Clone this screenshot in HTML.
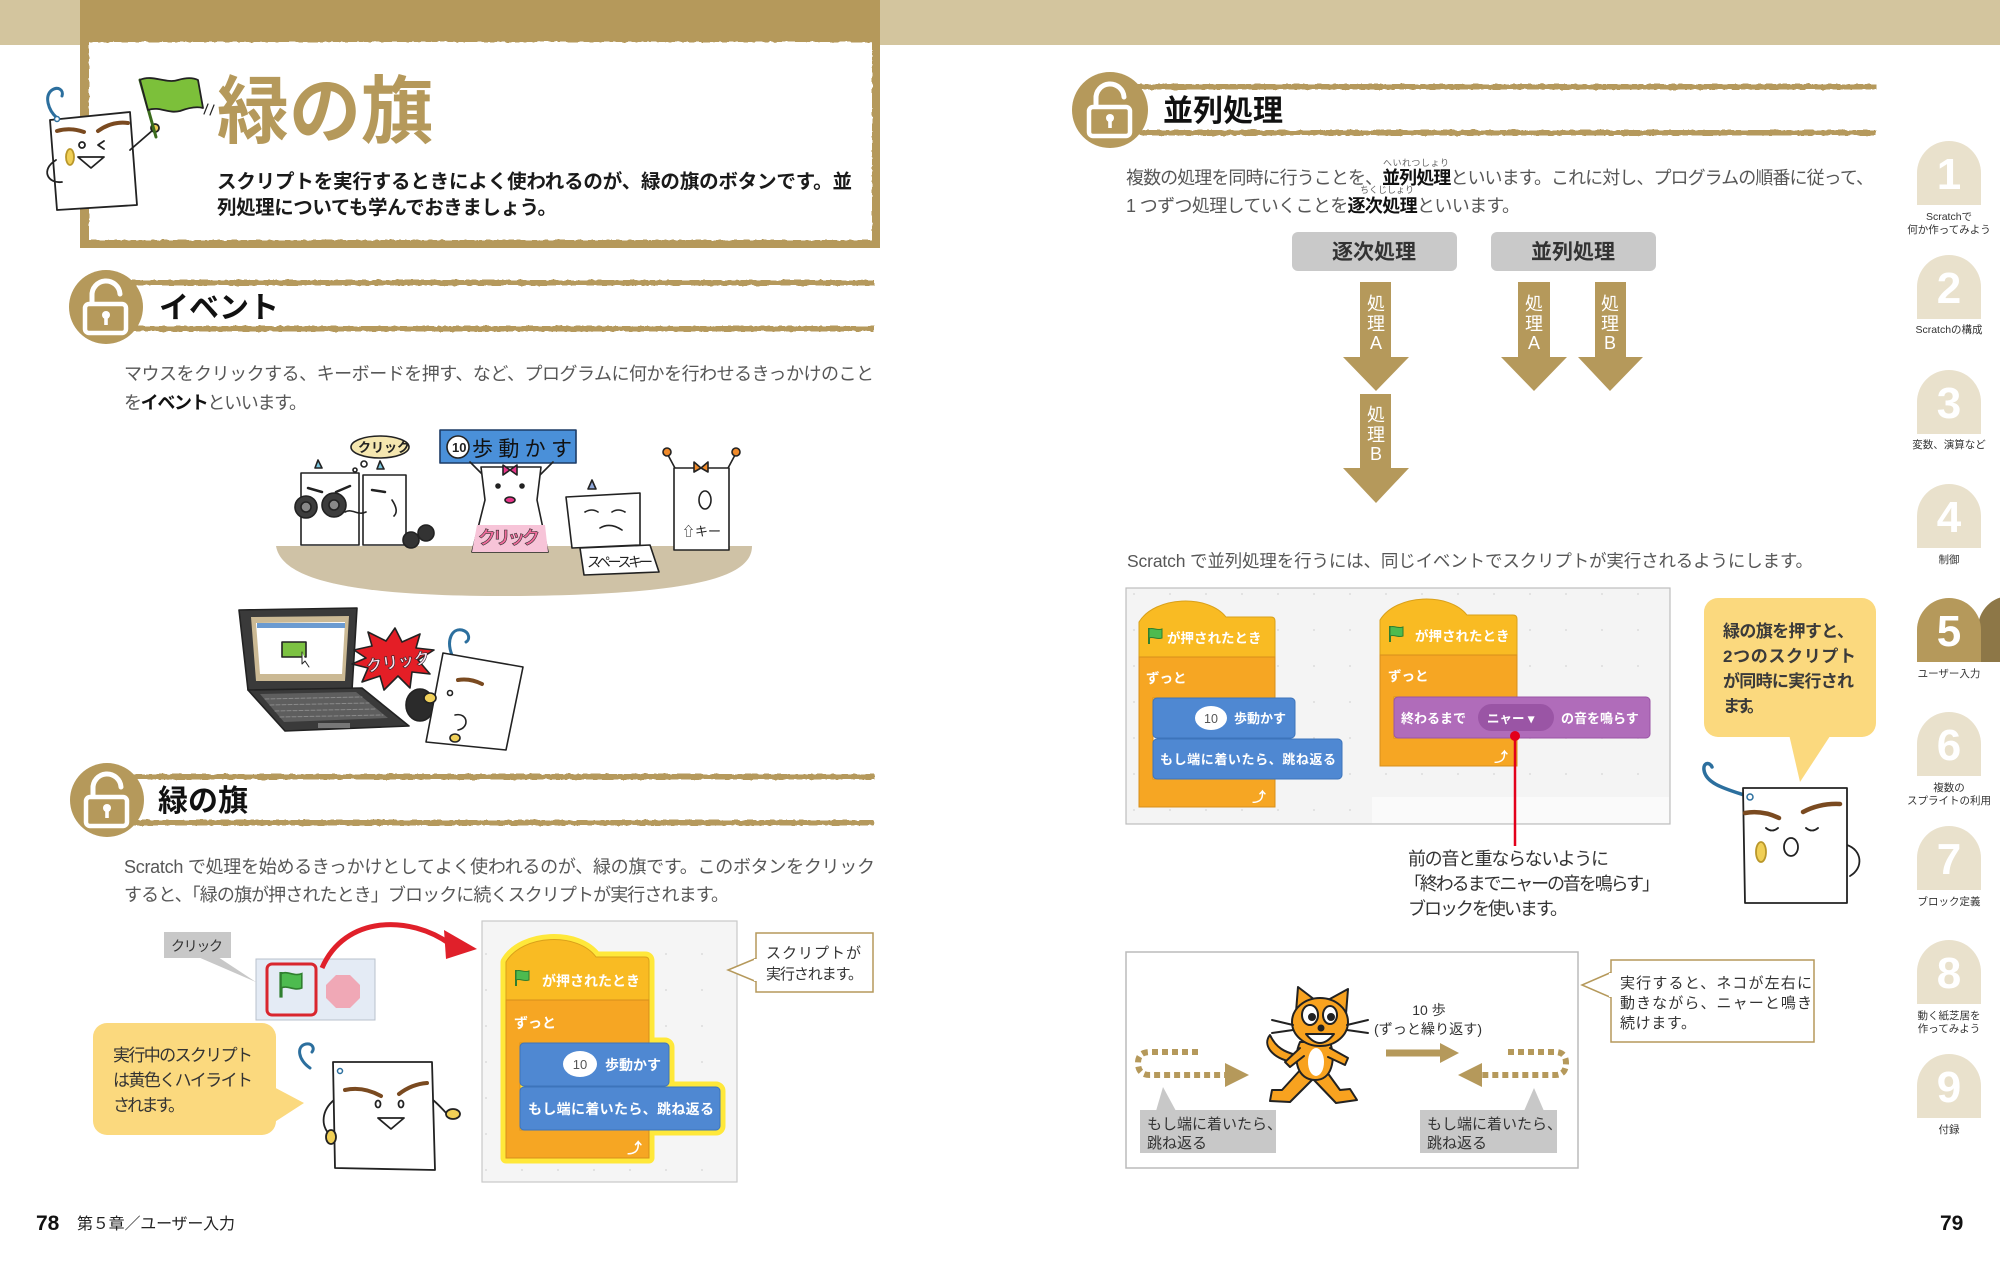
<!DOCTYPE html>
<html lang="ja">
<head>
<meta charset="utf-8">
<style>
  html,body{margin:0;padding:0;background:#fff;}
  body{width:2000px;height:1265px;overflow:hidden;}
  svg{display:block;}
  text{font-family:"Liberation Sans","Noto Sans CJK JP",sans-serif;}
</style>
</head>
<body>
<svg width="2000" height="1265" viewBox="0 0 2000 1265" xmlns="http://www.w3.org/2000/svg">
<defs>
  <filter id="rough" x="-5%" y="-20%" width="110%" height="140%">
    <feTurbulence type="fractalNoise" baseFrequency="0.18" numOctaves="2" seed="4" result="n"/>
    <feDisplacementMap in="SourceGraphic" in2="n" scale="3" xChannelSelector="R" yChannelSelector="G"/>
  </filter>
  <pattern id="dots" width="36" height="36" patternUnits="userSpaceOnUse">
    <circle cx="18" cy="18" r="1" fill="#dcdcdc"/>
  </pattern>
  <g id="flagicon">
    <line x1="0" y1="0" x2="0" y2="16" stroke="#2f7f2f" stroke-width="2"/>
    <path d="M0,1 C4,-1 8,3 13,1 L13,10 C8,12 4,8 0,10 Z" fill="#4dbb4f" stroke="#2f7f2f" stroke-width="1"/>
  </g>
  <path id="hatL" d="M506,1000 L506,962 C522,934 578,932 596,957 L645,957 Q649,957 649,961 L649,1000 Z"/>
  <path id="cL" d="M506,1000 L649,1000 L649,1043 L520,1043 L520,1130 L649,1130 L649,1158 L506,1158 Z"/>
  <rect id="b1L" x="520" y="1043" width="149" height="43" rx="4"/>
  <rect id="b2L" x="520" y="1087" width="200" height="43" rx="4"/>
  <g id="lock">
    <path d="M-14,-4 V-11 A14,14 0 0 1 14,-13" fill="none" stroke="#fff" stroke-width="5" stroke-linecap="round"/>
    <rect x="-21" y="-3" width="41" height="29" rx="4" fill="none" stroke="#fff" stroke-width="4.5"/>
    <circle cx="0" cy="8" r="4" fill="#fff"/>
    <rect x="-1.8" y="8" width="3.6" height="10" fill="#fff"/>
  </g>
</defs>

<rect x="0" y="0" width="2000" height="45" fill="#d3c59e"/>

<rect x="80" y="0" width="800" height="248" fill="#b5995b"/>
<rect x="89" y="42" width="783" height="198" fill="#ffffff" filter="url(#rough)"/>

<g stroke="#222" stroke-width="1.8" stroke-linejoin="round" stroke-linecap="round">
  <path d="M57,118 C48,110 44,96 52,90 C58,86 64,90 62,96" fill="none" stroke="#2c6f9e" stroke-width="3"/>
  <polygon points="50,120 130,112 137,205 57,210" fill="#fff"/>
  <circle cx="57" cy="119" r="2.5" fill="#fff" stroke="#2c6f9e" stroke-width="1.5"/>
  <path d="M57,131 Q70,127 84,132" fill="none" stroke="#7a4a20" stroke-width="4"/>
  <path d="M98,131 Q112,121 128,123" fill="none" stroke="#7a4a20" stroke-width="4"/>
  <circle cx="82" cy="145" r="3" fill="#fff"/>
  <path d="M104,141 L98,145 L104,149" fill="none"/>
  <polygon points="78,157 104,157 91,168" fill="#fff"/>
  <ellipse cx="70" cy="157" rx="4" ry="8" fill="#f0cf56" stroke="#b9972a"/>
  <path d="M56,160 C40,170 48,184 62,182" fill="none"/>
  <path d="M130,150 L153,130" fill="none"/>
  <circle cx="155" cy="128" r="4" fill="#f0cf56"/>
  <line x1="156" y1="137" x2="140" y2="80" stroke="#3b6b1d" stroke-width="3"/>
  <path d="M140,80 C152,74 166,84 178,80 C188,77 194,78 198,80 L203,108 C196,106 188,108 180,111 C168,114 160,106 148,110 Z" fill="#7cc03a"/>
  <path d="M204,114 L208,104 M210,115 L214,105" fill="none" stroke-width="1.2"/>
</g>

<text x="217" y="137" font-size="74" font-weight="bold" fill="#b5995b" textLength="216" lengthAdjust="spacingAndGlyphs">緑の旗</text>
<text x="217" y="188" font-size="19.5" font-weight="bold" fill="#1a1a1a" textLength="635">スクリプトを実行するときによく使われるのが、緑の旗のボタンです。並</text>
<text x="217" y="214" font-size="19.5" font-weight="bold" fill="#1a1a1a" textLength="340">列処理についても学んでおきましょう。</text>

<g filter="url(#rough)">
  <rect x="120" y="280" width="754" height="5.5" fill="#b5995b"/>
  <rect x="120" y="326" width="754" height="5.5" fill="#b5995b"/>
</g>
<circle cx="106" cy="307" r="37" fill="#b5995b"/>
<use href="#lock" x="106" y="307"/>
<text x="159" y="318" font-size="30" font-weight="bold" fill="#111">イベント</text>

<text x="124" y="380" font-size="18" fill="#575757" textLength="750">マウスをクリックする、キーボードを押す、など、プログラムに何かを行わせるきっかけのこと</text>
<text x="124" y="409" font-size="18" fill="#575757" textLength="183">を<tspan font-weight="bold" fill="#111">イベント</tspan>といいます。</text>

<path d="M276,546 L752,546 C752,576 700,594 520,596 C360,597 282,582 276,546 Z" fill="#cfc2a6"/>
<g stroke="#222" stroke-width="1.6" stroke-linejoin="round" stroke-linecap="round">
  <rect x="301" y="473" width="58" height="72" fill="#fff"/>
  <rect x="363" y="475" width="43" height="70" fill="#fff"/>
  <path d="M315,468 L318,460 L322,468 Z M377,469 L380,461 L384,469 Z" fill="#7ac7e0"/>
  <path d="M308,488 L322,492 M336,492 L350,486 M372,490 L385,492" fill="none" stroke-width="2.5"/>
  <circle cx="306" cy="507" r="11" fill="#3c3c3c"/>
  <circle cx="334" cy="505" r="12" fill="#3c3c3c"/>
  <circle cx="306" cy="507" r="5" fill="#888"/>
  <circle cx="334" cy="505" r="5" fill="#888"/>
  <path d="M345,512 C352,508 358,516 366,512 M392,500 C396,506 398,512 394,516" fill="none"/>
  <circle cx="411" cy="540" r="8" fill="#333"/>
  <circle cx="426" cy="533" r="8" fill="#333"/>
  <ellipse cx="380" cy="447" rx="29" ry="11" fill="#f5e7b0"/>
  <circle cx="364" cy="464" r="3" fill="#fff"/>
  <circle cx="355" cy="470" r="2" fill="#fff"/>
  <rect x="440" y="430" width="136" height="33" fill="#4a90d9" stroke="#1d3c66"/>
  <circle cx="458" cy="447" r="11" fill="#fff"/>
  <line x1="484" y1="476" x2="470" y2="462"/>
  <line x1="539" y1="476" x2="553" y2="462"/>
  <polygon points="481,467 541,467 537,500 548,552 472,552 485,500" fill="#fff"/>
  <polygon points="477,525 545,525 548,552 472,552" fill="#f7c4d8" stroke="none"/>
  <path d="M503,465 L510,470 L517,465 L517,475 L510,470 L503,475 Z" fill="#e8368a"/>
  <circle cx="498" cy="486" r="2" fill="#222"/>
  <circle cx="522" cy="486" r="2" fill="#222"/>
  <ellipse cx="510" cy="500" rx="5" ry="3" fill="#e8368a"/>
  <polygon points="566,497 640,493 640,545 572,548" fill="#fff"/>
  <path d="M588,489 L592,480 L596,489 Z" fill="#8fa7d9"/>
  <path d="M585,512 Q592,508 598,512 M612,512 Q618,508 625,512 M600,528 Q610,522 622,530" fill="none"/>
  <polygon points="580,548 650,545 659,572 584,575" fill="#fff"/>
  <line x1="676" y1="470" x2="668" y2="455"/>
  <line x1="727" y1="470" x2="735" y2="455"/>
  <circle cx="667" cy="452" r="4" fill="#f08a2a"/>
  <circle cx="736" cy="452" r="4" fill="#f08a2a"/>
  <rect x="674" y="468" width="55" height="82" fill="#fff"/>
  <path d="M694,462 L701,468 L708,462 L708,472 L701,468 L694,472 Z" fill="#f08a2a"/>
  <ellipse cx="705" cy="500" rx="6" ry="9" fill="#fff"/>
  <polygon points="239,610 357,608 352,690 248,690" fill="#3a3a3a"/>
  <polygon points="251,617 349,616 345,681 256,681" fill="#cbb994" stroke="none"/>
  <polygon points="256,623 345,622 342,674 260,674" fill="#fff" stroke="none"/>
  <rect x="257" y="623" width="88" height="5" fill="#6b9bd1" stroke="none"/>
  <rect x="282" y="642" width="24" height="15" fill="#7cc242"/>
  <path d="M302,652 L302,664 L305,661 L309,667" fill="#fff" stroke-width="1"/>
  <polygon points="248,690 362,688 409,726 285,731" fill="#3a3a3a"/>
  <polygon points="260,694 356,692 388,718 284,722" fill="#5e5e5e" stroke="none"/>
  <path d="M265,699 L362,697 M270,705 L369,703 M275,711 L376,709 M280,717 L383,715" stroke="#8a8a8a" stroke-width="1" stroke-dasharray="4 2"/>
  <rect x="318" y="723" width="32" height="5" fill="#777" stroke="none"/>
  <polygon points="354,650 372,646 368,632 386,641 395,628 402,642 420,634 416,648 434,650 418,660 430,674 412,672 410,688 398,676 384,690 380,676 362,682 368,668 352,664 366,658" fill="#e41e26"/>
  <ellipse cx="420" cy="705" rx="14" ry="16" fill="#2b2b2b"/>
  <path d="M452,655 C446,640 452,628 462,630 C470,632 470,640 466,642" fill="none" stroke="#2c6f9e" stroke-width="3"/>
  <polygon points="443,653 523,667 506,750 426,742" fill="#fff"/>
  <ellipse cx="430" cy="698" rx="6" ry="5" fill="#f1d15a"/>
  <path d="M458,680 Q470,678 482,684" fill="none" stroke="#7a4a20" stroke-width="4"/>
  <circle cx="450" cy="693" r="2.5" fill="#fff"/>
  <path d="M455,715 C468,712 470,728 458,730" fill="none"/>
  <ellipse cx="455" cy="738" rx="5" ry="4" fill="#f1d15a"/>
</g>
<text x="358" y="452" font-size="13" font-weight="bold" fill="#222">クリック</text>
<text x="452" y="452" font-size="13" font-weight="bold" fill="#222">10</text>
<text x="472" y="456" font-size="21" fill="#111" textLength="100">歩動かす</text>
<text x="478" y="544" font-size="18" font-weight="bold" fill="#f06a9a" stroke="#333" stroke-width="0.6" textLength="62">クリック</text>
<text x="587" y="567" font-size="14" fill="#222" textLength="66">スペースキー</text>
<text x="682" y="536" font-size="13" fill="#222">⇧キー</text>
<text x="366" y="668" font-size="16" font-weight="bold" fill="#fde" stroke="#222" stroke-width="0.6" transform="rotate(-8 394 662)">クリック</text>

<g filter="url(#rough)">
  <rect x="120" y="774" width="754" height="5.5" fill="#b5995b"/>
  <rect x="120" y="820" width="754" height="5.5" fill="#b5995b"/>
</g>
<circle cx="107" cy="800" r="37" fill="#b5995b"/>
<use href="#lock" x="107" y="800"/>
<text x="158" y="811" font-size="30" font-weight="bold" fill="#111">緑の旗</text>

<text x="124" y="873" font-size="18" fill="#575757" textLength="751">Scratch で処理を始めるきっかけとしてよく使われるのが、緑の旗です。このボタンをクリック</text>
<text x="124" y="901" font-size="18" fill="#575757" textLength="605">すると、「緑の旗が押されたとき」ブロックに続くスクリプトが実行されます。</text>

<polygon points="198,957 218,957 256,982" fill="#c8c8c8"/>
<rect x="164" y="932" width="67" height="26" fill="#c8c8c8"/>
<text x="171" y="951" font-size="14" fill="#333" textLength="52">クリック</text>
<rect x="256" y="959" width="119" height="61" fill="#e4ebf5" stroke="#b8c0cc" stroke-width="1"/>
<rect x="267" y="964" width="49" height="51" rx="5" fill="none" stroke="#d9262e" stroke-width="3"/>
<g transform="translate(281,972) scale(1.6)"><use href="#flagicon"/></g>
<polygon points="336,975 350,975 360,985 360,998 350,1008 336,1008 326,998 326,985" fill="#f0a8b6"/>
<path d="M322,968 C345,915 410,915 450,944" fill="none" stroke="#e0202a" stroke-width="5"/>
<polygon points="444,930 477,949 446,959" fill="#e0202a"/>

<polygon points="270,1085 270,1125 304,1103" fill="#fbd97e"/>
<rect x="93" y="1023" width="183" height="112" rx="14" fill="#fbd97e"/>
<text x="113" y="1061" font-size="17" fill="#333" textLength="140">実行中のスクリプト</text>
<text x="113" y="1086" font-size="17" fill="#333" textLength="140">は黄色くハイライト</text>
<text x="113" y="1111" font-size="17" fill="#333" textLength="72">されます。</text>

<g stroke="#222" stroke-width="1.8" stroke-linejoin="round" stroke-linecap="round">
  <path d="M310,1068 C298,1060 296,1046 306,1044 C312,1043 315,1048 312,1052" fill="none" stroke="#2c6f9e" stroke-width="3"/>
  <path d="M334,1100 C322,1110 320,1125 330,1135" fill="none"/>
  <path d="M433,1100 C445,1110 448,1118 452,1115" fill="none"/>
  <polygon points="333,1062 432,1062 435,1170 335,1168" fill="#fff"/>
  <circle cx="340" cy="1071" r="2.5" fill="#fff" stroke="#2c6f9e" stroke-width="1.5"/>
  <path d="M345,1090 Q363,1086 381,1096" fill="none" stroke="#7a4a20" stroke-width="4"/>
  <path d="M399,1094 Q412,1084 427,1083" fill="none" stroke="#7a4a20" stroke-width="4"/>
  <ellipse cx="378" cy="1104" rx="2.5" ry="3.5" fill="#fff"/>
  <ellipse cx="401" cy="1104" rx="2.5" ry="3.5" fill="#fff"/>
  <polygon points="378,1118 404,1118 391,1129" fill="#fff"/>
  <ellipse cx="331" cy="1137" rx="5" ry="7" fill="#f0cf56"/>
  <ellipse cx="453" cy="1114" rx="7" ry="5" fill="#f0cf56"/>
</g>

<rect x="482" y="921" width="255" height="261" fill="#f5f5f5" stroke="#c9c9c9" stroke-width="1.2"/>
<rect x="483" y="922" width="253" height="259" fill="url(#dots)"/>
<g fill="#ffe83a" stroke="#ffe83a" stroke-width="11" stroke-linejoin="round">
  <use href="#hatL"/><use href="#cL"/><use href="#b1L"/><use href="#b2L"/>
</g>
<use href="#hatL" fill="#f9bb23" stroke="#d9a01a" stroke-width="1"/>
<use href="#cL" fill="#f6a623" stroke="#d78f1b" stroke-width="1"/>
<use href="#b1L" fill="#4f88d2" stroke="#3d74bb" stroke-width="1"/>
<use href="#b2L" fill="#4f88d2" stroke="#3d74bb" stroke-width="1"/>
<use href="#flagicon" x="516" y="970"/>
<text x="542" y="986" font-size="14" font-weight="bold" fill="#fff">が押されたとき</text>
<text x="514" y="1028" font-size="14" font-weight="bold" fill="#fff">ずっと</text>
<ellipse cx="580" cy="1064" rx="17" ry="13" fill="#fff"/>
<text x="580" y="1069" font-size="13" fill="#555" text-anchor="middle">10</text>
<text x="605" y="1070" font-size="14" font-weight="bold" fill="#fff">歩動かす</text>
<text x="528" y="1114" font-size="14" font-weight="bold" fill="#fff" textLength="186">もし端に着いたら、跳ね返る</text>
<text x="627" y="1153" font-size="15" font-weight="bold" fill="#fff">⤴</text>

<polygon points="757,958 728,970 757,982" fill="#fff" stroke="#b5995b" stroke-width="1.5"/>
<rect x="756" y="933" width="117" height="59" fill="#fff" stroke="#b5995b" stroke-width="1.5"/>
<rect x="754" y="959" width="4" height="22" fill="#fff"/>
<text x="766" y="958" font-size="15" fill="#333" textLength="95">スクリプトが</text>
<text x="766" y="979" font-size="15" fill="#333" textLength="97">実行されます。</text>

<text x="36" y="1230" font-size="21" font-weight="bold" fill="#111">78</text>
<text x="77" y="1229" font-size="16" fill="#222" textLength="158">第５章／ユーザー入力</text>

<g filter="url(#rough)">
  <rect x="1125" y="84" width="751" height="5.5" fill="#b5995b"/>
  <rect x="1125" y="130" width="751" height="5.5" fill="#b5995b"/>
</g>
<circle cx="1110" cy="110" r="38" fill="#b5995b"/>
<use href="#lock" x="1110" y="110"/>
<text x="1163" y="121" font-size="30" font-weight="bold" fill="#111">並列処理</text>

<text x="1383" y="166" font-size="9" fill="#666" textLength="66">へいれつしょり</text>
<text x="1126" y="184" font-size="18" fill="#575757" textLength="748">複数の処理を同時に行うことを、<tspan font-weight="bold" fill="#111">並列処理</tspan>といいます。これに対し、プログラムの順番に従って、</text>
<text x="1360" y="193" font-size="9" fill="#666" textLength="54">ちくじしょり</text>
<text x="1126" y="212" font-size="18" fill="#575757" textLength="394">1 つずつ処理していくことを<tspan font-weight="bold" fill="#111">逐次処理</tspan>といいます。</text>

<rect x="1292" y="232" width="165" height="39" rx="6" fill="#c9c9c9"/>
<rect x="1491" y="232" width="165" height="39" rx="6" fill="#c9c9c9"/>
<text x="1374" y="259" font-size="21" font-weight="bold" fill="#333" text-anchor="middle">逐次処理</text>
<text x="1573" y="259" font-size="21" font-weight="bold" fill="#333" text-anchor="middle">並列処理</text>

<g fill="#b5995b">
  <rect x="1360" y="282" width="31" height="76"/>
  <polygon points="1343,357 1409,357 1376,391"/>
  <rect x="1360" y="394" width="31" height="75"/>
  <polygon points="1343,468 1409,468 1376,503"/>
  <rect x="1518" y="282" width="32" height="76"/>
  <polygon points="1501,357 1567,357 1534,391"/>
  <rect x="1595" y="282" width="31" height="76"/>
  <polygon points="1578,357 1643,357 1610,391"/>
</g>
<g font-size="18" fill="#fff" text-anchor="middle">
  <text x="1376" y="310">処</text><text x="1376" y="330">理</text><text x="1376" y="349">A</text>
  <text x="1376" y="421">処</text><text x="1376" y="441">理</text><text x="1376" y="460">B</text>
  <text x="1534" y="310">処</text><text x="1534" y="330">理</text><text x="1534" y="349">A</text>
  <text x="1610" y="310">処</text><text x="1610" y="330">理</text><text x="1610" y="349">B</text>
</g>

<text x="1127" y="567" font-size="17.5" fill="#575757" textLength="686">Scratch で並列処理を行うには、同じイベントでスクリプトが実行されるようにします。</text>

<rect x="1126" y="588" width="544" height="236" fill="#f4f4f4" stroke="#bdbdbd" stroke-width="1.2"/>
<rect x="1127" y="589" width="542" height="234" fill="url(#dots)"/>
<rect x="1372" y="797" width="297" height="26" fill="#fafafa"/>
<path d="M1139,657 L1139,622 C1155,596 1208,594 1226,617 L1271,617 Q1275,617 1275,621 L1275,657 Z" fill="#f9bb23" stroke="#d9a01a"/>
<path d="M1139,657 L1275,657 L1275,698 L1153,698 L1153,779 L1275,779 L1275,807 L1139,807 Z" fill="#f6a623" stroke="#d78f1b"/>
<rect x="1153" y="698" width="142" height="40" rx="4" fill="#4f88d2" stroke="#3d74bb"/>
<rect x="1153" y="739" width="189" height="40" rx="4" fill="#4f88d2" stroke="#3d74bb"/>
<use href="#flagicon" x="1149" y="628"/>
<text x="1167" y="643" font-size="13.5" font-weight="bold" fill="#fff">が押されたとき</text>
<text x="1146" y="683" font-size="13.5" font-weight="bold" fill="#fff">ずっと</text>
<ellipse cx="1211" cy="718" rx="16" ry="12" fill="#fff"/>
<text x="1211" y="723" font-size="12.5" fill="#555" text-anchor="middle">10</text>
<text x="1234" y="723" font-size="13" font-weight="bold" fill="#fff">歩動かす</text>
<text x="1160" y="764" font-size="13" font-weight="bold" fill="#fff" textLength="176">もし端に着いたら、跳ね返る</text>
<text x="1252" y="802" font-size="14" font-weight="bold" fill="#fff">⤴</text>
<path d="M1380,655 L1380,620 C1396,594 1449,592 1467,615 L1513,615 Q1517,615 1517,619 L1517,655 Z" fill="#f9bb23" stroke="#d9a01a"/>
<path d="M1380,655 L1517,655 L1517,697 L1394,697 L1394,738 L1517,738 L1517,766 L1380,766 Z" fill="#f6a623" stroke="#d78f1b"/>
<rect x="1394" y="697" width="256" height="41" rx="4" fill="#b06cba" stroke="#9a55a5"/>
<use href="#flagicon" x="1390" y="626"/>
<text x="1415" y="641" font-size="13.5" font-weight="bold" fill="#fff">が押されたとき</text>
<text x="1388" y="681" font-size="13.5" font-weight="bold" fill="#fff">ずっと</text>
<text x="1401" y="723" font-size="13" font-weight="bold" fill="#fff">終わるまで</text>
<rect x="1478" y="704" width="76" height="27" rx="13.5" fill="#9a55a5"/>
<text x="1487" y="723" font-size="12.5" font-weight="bold" fill="#fff">ニャー ▾</text>
<text x="1561" y="723" font-size="13" font-weight="bold" fill="#fff">の音を鳴らす</text>
<text x="1494" y="762" font-size="14" font-weight="bold" fill="#fff">⤴</text>
<line x1="1515" y1="736" x2="1515" y2="846" stroke="#e3001b" stroke-width="2.5"/>
<circle cx="1515" cy="736" r="5" fill="#e3001b"/>

<text x="1408" y="865" font-size="18" fill="#333" textLength="201">前の音と重ならないように</text>
<text x="1404" y="890" font-size="18" fill="#333" textLength="256">「終わるまでニャーの音を鳴らす」</text>
<text x="1408" y="915" font-size="18" fill="#333" textLength="160">ブロックを使います。</text>

<polygon points="1788,730 1834,730 1800,782" fill="#fbd97e"/>
<rect x="1704" y="598" width="172" height="139" rx="14" fill="#fbd97e"/>
<text x="1723" y="637" font-size="17" font-weight="bold" fill="#3a3a3a" textLength="131">緑の旗を押すと、</text>
<text x="1723" y="662" font-size="17" font-weight="bold" fill="#3a3a3a" textLength="133">2つのスクリプト</text>
<text x="1723" y="687" font-size="17" font-weight="bold" fill="#3a3a3a" textLength="131">が同時に実行され</text>
<text x="1723" y="712" font-size="17" font-weight="bold" fill="#3a3a3a" textLength="41">ます。</text>

<g stroke="#222" stroke-width="1.8" stroke-linejoin="round" stroke-linecap="round">
  <path d="M1750,797 C1730,790 1706,785 1704,770 C1703,762 1710,762 1712,767" fill="none" stroke="#2c6f9e" stroke-width="3.5"/>
  <path d="M1847,845 C1862,850 1864,868 1850,876" fill="none"/>
  <polygon points="1743,788 1847,788 1847,903 1745,903" fill="#fff"/>
  <circle cx="1750" cy="797" r="3" fill="#fff" stroke="#2c6f9e" stroke-width="1.5"/>
  <path d="M1745,813 Q1762,810 1779,818" fill="none" stroke="#7a4a20" stroke-width="4.5"/>
  <path d="M1803,812 Q1820,803 1840,804" fill="none" stroke="#7a4a20" stroke-width="4.5"/>
  <path d="M1766,828 Q1772,833 1778,828 M1806,828 Q1812,833 1818,828" fill="none"/>
  <ellipse cx="1791" cy="847" rx="7" ry="9" fill="#fff"/>
  <ellipse cx="1761" cy="852" rx="5" ry="10" fill="#f0cf56" stroke="#b9972a"/>
</g>

<rect x="1126" y="952" width="452" height="216" fill="#fff" stroke="#bbb" stroke-width="1.5"/>
<g fill="none" stroke="#b5995b" stroke-width="6" stroke-dasharray="6 4">
  <path d="M1198,1052 L1150,1052 Q1138,1052 1138,1063 Q1138,1075 1150,1075 L1226,1075"/>
  <path d="M1508,1052 L1555,1052 Q1566,1052 1566,1063 Q1566,1075 1555,1075 L1482,1075"/>
</g>
<polygon points="1225,1063 1249,1075 1225,1087" fill="#b5995b"/>
<polygon points="1482,1063 1458,1075 1482,1087" fill="#b5995b"/>
<line x1="1386" y1="1053" x2="1442" y2="1053" stroke="#b5995b" stroke-width="7"/>
<polygon points="1440,1043 1459,1053 1440,1063" fill="#b5995b"/>
<text x="1429" y="1015" font-size="14" fill="#333" text-anchor="middle">10 歩</text>
<text x="1428" y="1034" font-size="14" fill="#333" text-anchor="middle" textLength="108">(ずっと繰り返す)</text>
<g stroke="#222" stroke-width="2" stroke-linejoin="round" stroke-linecap="round">
  <path d="M1292,1062 C1272,1058 1262,1045 1270,1035 C1276,1048 1285,1052 1296,1055" fill="#f8a21f"/>
  <path d="M1302,1068 L1282,1090 L1272,1090 L1270,1101 L1290,1102 L1314,1078 Z" fill="#f8a21f"/>
  <path d="M1324,1068 L1340,1090 L1350,1089 L1357,1100 L1336,1103 L1314,1080 Z" fill="#f8a21f"/>
  <path d="M1300,1042 C1292,1060 1298,1080 1315,1080 C1332,1080 1336,1060 1330,1042 Z" fill="#f8a21f"/>
  <ellipse cx="1316" cy="1062" rx="8" ry="14" fill="#fff" stroke="none"/>
  <path d="M1300,1048 L1285,1062 L1290,1067 L1304,1056" fill="#f8a21f"/>
  <path d="M1330,1048 L1348,1058 L1345,1065 L1328,1057" fill="#f8a21f"/>
  <path d="M1296,1012 L1298,987 L1315,1000 Z" fill="#f8a21f"/>
  <path d="M1328,1000 L1348,989 L1346,1014 Z" fill="#f8a21f"/>
  <ellipse cx="1320" cy="1022" rx="28" ry="24" fill="#f8a21f"/>
  <ellipse cx="1310" cy="1015" rx="8" ry="10" fill="#fff"/>
  <ellipse cx="1330" cy="1015" rx="7" ry="9" fill="#fff"/>
  <circle cx="1312" cy="1017" r="3" fill="#222"/>
  <circle cx="1331" cy="1017" r="3" fill="#222"/>
  <circle cx="1321" cy="1028" r="2.5" fill="#222"/>
  <path d="M1306,1034 Q1320,1052 1334,1034 Z" fill="#fff"/>
  <path d="M1293,1025 L1272,1020 M1293,1030 L1272,1033 M1347,1025 L1368,1020 M1347,1030 L1368,1033" fill="none"/>
</g>
<polygon points="1156,1111 1176,1111 1163,1087" fill="#c8c8c8"/>
<rect x="1140" y="1110" width="136" height="43" fill="#c8c8c8"/>
<text x="1147" y="1129" font-size="15" fill="#333">もし端に着いたら、</text>
<text x="1147" y="1148" font-size="15" fill="#333">跳ね返る</text>
<polygon points="1524,1111 1544,1111 1534,1088" fill="#c8c8c8"/>
<rect x="1420" y="1110" width="137" height="43" fill="#c8c8c8"/>
<text x="1427" y="1129" font-size="15" fill="#333">もし端に着いたら、</text>
<text x="1427" y="1148" font-size="15" fill="#333">跳ね返る</text>
<polygon points="1612,972 1582,985 1612,998" fill="#fff" stroke="#b5995b" stroke-width="1.5"/>
<rect x="1611" y="960" width="203" height="82" fill="#fff" stroke="#b5995b" stroke-width="1.5"/>
<rect x="1609" y="973" width="4" height="24" fill="#fff"/>
<text x="1620" y="988" font-size="15" fill="#333" textLength="192">実行すると、ネコが左右に</text>
<text x="1620" y="1008" font-size="15" fill="#333" textLength="192">動きながら、ニャーと鳴き</text>
<text x="1620" y="1028" font-size="15" fill="#333" textLength="76">続けます。</text>

<text x="1940" y="1230" font-size="21" font-weight="bold" fill="#111">79</text>

<path d="M1978,662 V628 A32,32 0 0 1 2042,628 V662 Z" fill="#8d7747"/>
<g>
  <path d="M1917,205 V173 A32,32 0 0 1 1981,173 V205 Z" fill="#e9e1cc"/>
  <path d="M1917,319 V287 A32,32 0 0 1 1981,287 V319 Z" fill="#e9e1cc"/>
  <path d="M1917,434 V402 A32,32 0 0 1 1981,402 V434 Z" fill="#e9e1cc"/>
  <path d="M1917,548 V516 A32,32 0 0 1 1981,516 V548 Z" fill="#e9e1cc"/>
  <path d="M1917,662 V630 A32,32 0 0 1 1981,630 V662 Z" fill="#b5995b"/>
  <path d="M1917,776 V744 A32,32 0 0 1 1981,744 V776 Z" fill="#e9e1cc"/>
  <path d="M1917,890 V858 A32,32 0 0 1 1981,858 V890 Z" fill="#e9e1cc"/>
  <path d="M1917,1004 V972 A32,32 0 0 1 1981,972 V1004 Z" fill="#e9e1cc"/>
  <path d="M1917,1118 V1086 A32,32 0 0 1 1981,1086 V1118 Z" fill="#e9e1cc"/>
</g>
<g font-family="'Liberation Sans Narrow','Liberation Sans',sans-serif" font-size="44" font-weight="bold" fill="#fff" text-anchor="middle">
  <text x="1949" y="189">1</text>
  <text x="1949" y="303">2</text>
  <text x="1949" y="418">3</text>
  <text x="1949" y="532">4</text>
  <text x="1949" y="646">5</text>
  <text x="1949" y="760">6</text>
  <text x="1949" y="874">7</text>
  <text x="1949" y="988">8</text>
  <text x="1949" y="1102">9</text>
</g>
<g font-size="10.5" fill="#333" text-anchor="middle">
  <text x="1949" y="220">Scratchで</text>
  <text x="1949" y="233">何か作ってみよう</text>
  <text x="1949" y="333">Scratchの構成</text>
  <text x="1949" y="448">変数、演算など</text>
  <text x="1949" y="563">制御</text>
  <text x="1949" y="677">ユーザー入力</text>
  <text x="1949" y="791">複数の</text>
  <text x="1949" y="804">スプライトの利用</text>
  <text x="1949" y="905">ブロック定義</text>
  <text x="1949" y="1019">動く紙芝居を</text>
  <text x="1949" y="1032">作ってみよう</text>
  <text x="1949" y="1133">付録</text>
</g>
</svg>
</body>
</html>
